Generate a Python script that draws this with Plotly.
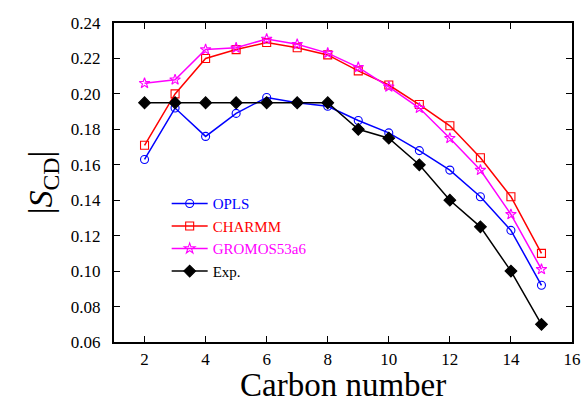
import plotly.graph_objects as go

carbon = [2, 3, 4, 5, 6, 7, 8, 9, 10, 11, 12, 13, 14, 15]
opls = [0.163, 0.192, 0.176, 0.189, 0.198, 0.195, 0.193, 0.185, 0.178, 0.168, 0.157, 0.142, 0.123, 0.092]
charmm = [0.171, 0.200, 0.220, 0.225, 0.229, 0.226, 0.222, 0.213, 0.205, 0.194, 0.182, 0.164, 0.142, 0.110]
gromos = [0.206, 0.208, 0.225, 0.226, 0.231, 0.228, 0.223, 0.215, 0.204, 0.192, 0.175, 0.157, 0.132, 0.101]
exp = [0.195, 0.195, 0.195, 0.195, 0.195, 0.195, 0.195, 0.180, 0.175, 0.160, 0.140, 0.125, 0.100, 0.070]

x_ticks = [2, 4, 6, 8, 10, 12, 14, 16]
y_ticks = [0.06, 0.08, 0.10, 0.12, 0.14, 0.16, 0.18, 0.20, 0.22, 0.24]

series = [
    ("OPLS", opls, "#0000ff", "circle-open", 8),
    ("CHARMM", charmm, "#ff0000", "square-open", 8),
    ("GROMOS53a6", gromos, "#ff00ff", "star-open", 8),
    ("Exp.", exp, "#000000", "diamond", 9),
]

fig = go.Figure()
for name, vals, col, sym, sz in series:
    fig.add_trace(go.Scatter(
        x=carbon, y=vals, mode="lines+markers",
        name=f"<span style='color:{col}'>{name}</span>",
        line=dict(color=col, width=1.5),
        marker=dict(symbol=sym, size=sz, color=col,
                    line=dict(color=col, width=1.1)),
    ))

font_fam = "Liberation Serif"
axis_common = dict(
    showline=True, linecolor="black", linewidth=2, mirror="ticks",
    ticks="inside", ticklen=6, tickwidth=1.2, tickcolor="black",
    showgrid=False, zeroline=False, automargin=False,
    tickfont=dict(family=font_fam, size=17, color="black"),
)
fig.update_xaxes(range=[1, 16], tickvals=x_ticks, ticktext=[str(v) for v in x_ticks],
                 ticklabelstandoff=1,
                 **axis_common)
fig.update_yaxes(range=[0.06, 0.24], tickvals=y_ticks, ticktext=[f"{v:.2f}" for v in y_ticks],
                 ticklabelstandoff=8,
                 title=dict(text="|<i>S</i><sub>CD</sub>|", font=dict(family=font_fam, size=34, color="black"), standoff=8),
                 **axis_common)
fig.add_annotation(text="Carbon number", xref="paper", yref="paper", x=0.5, y=-0.195,
                   xanchor="center", yanchor="bottom", showarrow=False, borderpad=0,
                   font=dict(family=font_fam, size=33, color="black"))
fig.update_layout(
    width=582, height=405,
    margin=dict(l=114, r=10, t=23, b=63),
    plot_bgcolor="white", paper_bgcolor="white",
    font=dict(family=font_fam, color="black"),
    legend=dict(x=0.115, y=0.485, xanchor="left", yanchor="top",
                bgcolor="rgba(0,0,0,0)", font=dict(family=font_fam, size=15),
                tracegroupgap=0, itemwidth=36),
    showlegend=True,
)
fig.write_html("out.html")
